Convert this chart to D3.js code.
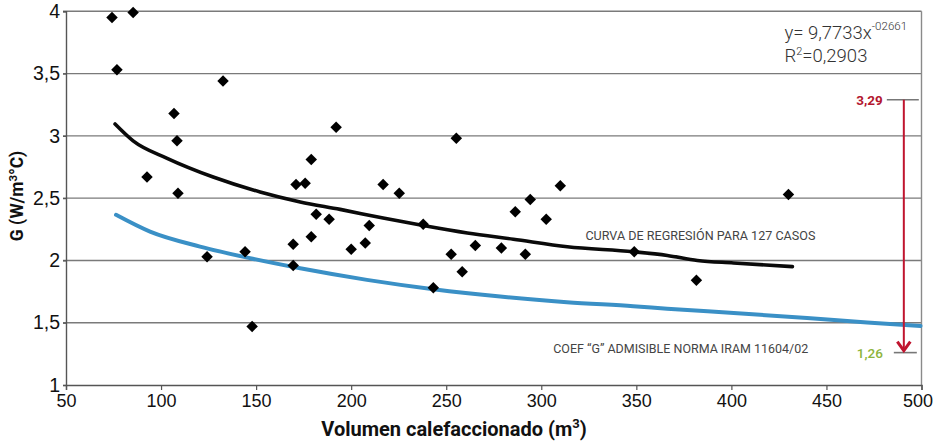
<!DOCTYPE html>
<html><head><meta charset="utf-8">
<script src="https://cdn.jsdelivr.net/npm/d3@7"></script>
<style>
html,body{margin:0;padding:0;background:#fff;}
svg{display:block;font-family:Roboto,"Noto Sans",sans-serif;}
</style></head>
<body><svg id="c" width="933" height="441"></svg>
<script>
// ---- data ----
const xTicks = [50,100,150,200,250,300,350,400,450,500];
const yTicks = [1,1.5,2,2.5,3,3.5,4];
const caseVol = [74.2,85.3,76.8,92.6,106.8,108.4,108.9,132.6,124.2,144.2,147.9,169.5,169.5,171,175.8,179,179,181.6,188.4,192.1,200,207.4,209.5,216.8,225.3,237.9,243.2,252.6,255.3,258.4,265.3,279,286.3,291.6,294.2,302.6,310,348.9,381.6,430];
const caseG   = [3.95,3.99,3.53,2.67,3.18,2.96,2.54,3.44,2.03,2.07,1.47,2.13,1.96,2.61,2.62,2.19,2.81,2.37,2.33,3.07,2.09,2.14,2.28,2.61,2.54,2.29,1.78,2.05,2.98,1.91,2.12,2.10,2.39,2.05,2.49,2.33,2.60,2.07,1.84,2.53];
const regVol = [75.8,85.3,103.2,127.4,152.1,173.2,194.2,216.8,237.9,261.1,285.3,313.7,348.4,366.3,382.1,401.1,432.1];
const regG   = [3.095,2.96,2.82,2.67,2.55,2.47,2.41,2.34,2.28,2.22,2.17,2.11,2.07,2.04,2.00,1.98,1.95];
const normVol = [76.3,94.2,120.5,146.8,173.2,208.3,243.3,278.4,313.5,348.4,366.2,401.2,439.8,471.4,499.5];
const normG   = [2.366,2.231,2.111,2.018,1.937,1.844,1.769,1.710,1.665,1.632,1.612,1.578,1.538,1.501,1.474];
const arrowVol = 490.7;
const limitVals = [3.29, 1.26];
const limitLabels = ["3,29","1,26"];
const regLabel = "CURVA DE REGRESIÓN PARA 127 CASOS";
const normLabel = "COEF \u201CG\u201D ADMISIBLE NORMA IRAM 11604/02";

// ---- scales ----
const svg = d3.select("#c");
const x = d3.scaleLinear().domain([50,500]).range([66,921.5]);
const y = d3.scaleLinear().domain([1,4]).range([385,11.3]);
const fmt = d => String(d).replace(".", ",");

// grid
svg.append("g").selectAll("line").data(yTicks.filter(d=>d>1)).join("line")
  .attr("x1", x(50)-3).attr("x2", x(500)).attr("y1", d=>y(d)).attr("y2", d=>y(d))
  .attr("stroke","#7a7a7a").attr("stroke-width",1.4);
// right border
svg.append("line").attr("x1",x(500)).attr("x2",x(500)).attr("y1",y(4)).attr("y2",y(1))
  .attr("stroke","#8a8a8a").attr("stroke-width",1.4);

// axes
const xAxis = svg.append("g").attr("transform",`translate(0,${y(1)})`)
  .call(d3.axisBottom(x).tickValues(xTicks).tickSize(5).tickPadding(4).tickFormat(d=>d));
xAxis.select(".domain").attr("stroke","#555").attr("stroke-width",1.4);
xAxis.selectAll(".tick line").attr("stroke","#555").attr("stroke-width",1.2);
xAxis.selectAll("text").attr("font-size",18).attr("font-weight",500).attr("fill","#111");
xAxis.selectAll(".tick text").filter(d=>d===500).attr("text-anchor","end").attr("dx",11);

const yAxis = svg.append("g").attr("transform",`translate(${x(50)},0)`)
  .call(d3.axisLeft(y).tickValues(yTicks).tickSize(3).tickPadding(3).tickFormat(fmt));
yAxis.select(".domain").attr("stroke","#555").attr("stroke-width",1.4);
yAxis.selectAll(".tick line").attr("stroke","#555").attr("stroke-width",1.2);
yAxis.selectAll("text").attr("font-size",19.5).attr("font-weight",500).attr("fill","#111");

// axis titles
svg.append("text").attr("x",454).attr("y",436).attr("text-anchor","middle")
  .attr("font-size",20).attr("font-weight",700).attr("fill","#111")
  .html('Volumen calefaccionado (m<tspan dy="-8" font-size="13">3</tspan><tspan dy="8">)</tspan>');
svg.append("text").attr("transform","translate(23,196) rotate(-90)").attr("text-anchor","middle")
  .attr("font-size",17.5).attr("font-weight",700).attr("fill","#111")
  .html('G (W/m<tspan dy="-6" font-size="11.5">3</tspan><tspan dy="6">°C)</tspan>');

// curves
const line = d3.line().x(d=>x(d[0])).y(d=>y(d[1])).curve(d3.curveMonotoneX);
svg.append("path").datum(normVol.map((v,i)=>[v,normG[i]])).attr("d",line)
  .attr("fill","none").attr("stroke","#3a90c6").attr("stroke-width",4).attr("stroke-linecap","round");
svg.append("path").datum(regVol.map((v,i)=>[v,regG[i]])).attr("d",line)
  .attr("fill","none").attr("stroke","#0a0a0a").attr("stroke-width",3.6).attr("stroke-linecap","round");

// points
svg.append("g").selectAll("path").data(caseVol.map((v,i)=>[v,caseG[i]])).join("path")
  .attr("d", d3.symbol().type(d3.symbolSquare).size(66))
  .attr("transform", d=>`translate(${x(d[0])},${y(d[1])}) rotate(45)`)
  .attr("fill","#000");

// labels
svg.append("text").attr("x",x(323.2)).attr("y",y(2.2)+4.5).attr("font-size",13).attr("fill","#444")
  .attr("textLength",230).attr("lengthAdjust","spacingAndGlyphs").text(regLabel);
svg.append("text").attr("x",x(306.3)).attr("y",y(1.29)+4.5).attr("font-size",13).attr("fill","#444")
  .attr("textLength",255).attr("lengthAdjust","spacingAndGlyphs").text(normLabel);

// equation
const eq = svg.append("text").attr("x",x(427.9)).attr("y",39).attr("font-size",18.5).attr("font-weight",300).attr("fill","#333");
eq.append("tspan").text("y= 9,7733x");
eq.append("tspan").attr("dy",-9).attr("font-size",11.5).text("-02661");
const r2 = svg.append("text").attr("x",x(427.9)).attr("y",62).attr("font-size",18.5).attr("font-weight",300).attr("fill","#333");
r2.append("tspan").text("R");
r2.append("tspan").attr("dy",-7).attr("font-size",11).text("2");
r2.append("tspan").attr("dy",7).text("=0,2903");

// limit arrow
limitVals.forEach((v,i)=>{
  svg.append("line").attr("x1",x(arrowVol)-(i?10:17)).attr("x2",x(arrowVol)+(i?13:15))
    .attr("y1",y(v)).attr("y2",y(v)).attr("stroke","#777").attr("stroke-width",1.6);
});
svg.append("line").attr("x1",x(arrowVol)).attr("x2",x(arrowVol))
  .attr("y1",y(limitVals[0])).attr("y2",y(limitVals[1])-2)
  .attr("stroke","#c0152f").attr("stroke-width",2);
svg.append("path")
  .attr("d",`M${x(arrowVol)-6.5},${y(limitVals[1])-11} L${x(arrowVol)},${y(limitVals[1])-2} L${x(arrowVol)+6.5},${y(limitVals[1])-11}`)
  .attr("fill","none").attr("stroke","#c0152f").attr("stroke-width",3);
svg.append("text").attr("x",x(arrowVol)-21).attr("y",y(limitVals[0])+5).attr("text-anchor","end")
  .attr("font-size",13.5).attr("font-weight",700).attr("fill","#b3172f").text(limitLabels[0]);
svg.append("text").attr("x",x(arrowVol)-21).attr("y",y(limitVals[1])+5).attr("text-anchor","end")
  .attr("font-size",13.5).attr("font-weight",500).attr("fill","#8db43c").text(limitLabels[1]);
</script></body></html>
